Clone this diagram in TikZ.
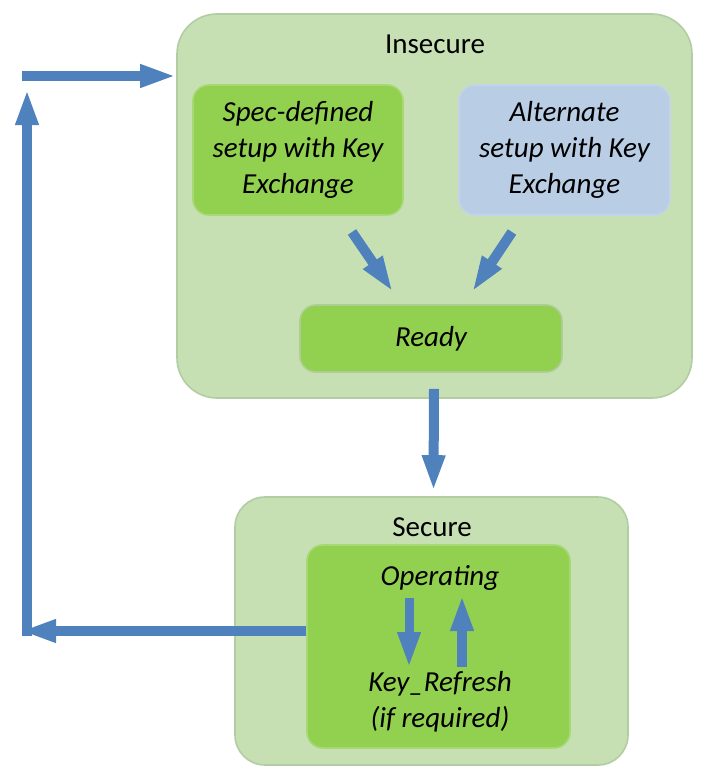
\documentclass[tikz,border=0pt]{standalone}
\usepackage{fontspec}
\setmainfont{Carlito}
\usetikzlibrary{arrows.meta}
\definecolor{groupfill}{HTML}{C6E0B4}
\definecolor{groupline}{HTML}{B2CDA4}
\definecolor{stategreen}{HTML}{92D050}
\definecolor{stateline}{HTML}{A6D873}
\definecolor{altblue}{HTML}{B9CDE5}
\definecolor{arrowblue}{HTML}{4F81BD}
\tikzset{
  group/.style={draw=groupline, line width=0.8pt, fill=groupfill, rounded corners=20pt},
  state/.style={draw=stateline, line width=0.8pt, fill=stategreen, rounded corners=8pt, align=center, font=\fontsize{14.5}{18}\selectfont\itshape},
  blockarrow/.style={draw=arrowblue, line width=5pt, -{Triangle[width=10.5pt,length=18pt]}}
}
\begin{document}
\begin{tikzpicture}[x=0.5pt, y=-0.5pt, every node/.style={font=\fontsize{14.5}{18}\selectfont}]
            \useasboundingbox (0,0) rectangle (713,776);
            % Groups
            \node[group, minimum width=257.5pt, minimum height=192pt] (insecure) at (434.5,206) {};
            \node[group, rounded corners=15pt, minimum width=196.5pt, minimum height=134pt] (secure) at (431.5,631) {};
            \node (insecurelabel) at (435,44) {Insecure};
            \node (securelabel) at (432,527) {Secure};
            % States
            \node[state, minimum width=105pt, minimum height=65pt] (spec) at (298,150) {Spec-defined\\setup with Key\\Exchange};
            \node[state, fill=altblue, draw=altblue!85!white, minimum width=105.5pt, minimum height=65pt] (alt) at (564.5,150) {Alternate\\setup with Key\\Exchange};
            \node[state, draw=groupline!80!stategreen, minimum width=131pt, minimum height=33.5pt] (ready) at (431,338.5) {Ready};
            \node[state, minimum width=131.5pt, minimum height=101.5pt] (operating) at (438.5,646.5) {};
            \node[font=\fontsize{14.5}{18}\selectfont\itshape] (opname) at (440,578) {Operating};
            \node[font=\fontsize{14.5}{18}\selectfont\itshape, align=center] (refresh) at (440,702) {Key\_Refresh\\(if required)};
            % Points of the loop
            \coordinate (specout) at (352,232);
            \coordinate (readyinl) at (393,292);
            \coordinate (altout) at (512,232);
            \coordinate (readyinr) at (472,292);
            \coordinate (bottomtip) at (20,631);
            \coordinate (cornerlow) at (27,636);
            \coordinate (toptip) at (27,89);
            \coordinate (cornerhigh) at (22,76);
            \coordinate (downtop) at (409,598);
            \coordinate (downend) at (409,668);
            \coordinate (uptop) at (462,595);
            \coordinate (upend) at (462,667);
            % Edges
            \draw[blockarrow] (specout) -- (readyinl);
            \draw[blockarrow] (altout) -- (readyinr);
            \draw[blockarrow] ([xshift=1.5pt,yshift=-8pt]ready.south) -- ([xshift=1pt,yshift=2.5pt]secure.north);
            \draw[blockarrow, line width=4.5pt] (downtop) -- (downend);
            \draw[blockarrow, line width=5pt] (upend) -- (uptop);
            \draw[blockarrow] (operating.west |- bottomtip) -- (bottomtip);
            \draw[blockarrow] (cornerlow) -- (toptip);
            \draw[blockarrow] (cornerhigh) -- (insecure.west |- cornerhigh);
          \end{tikzpicture}
\end{document}
